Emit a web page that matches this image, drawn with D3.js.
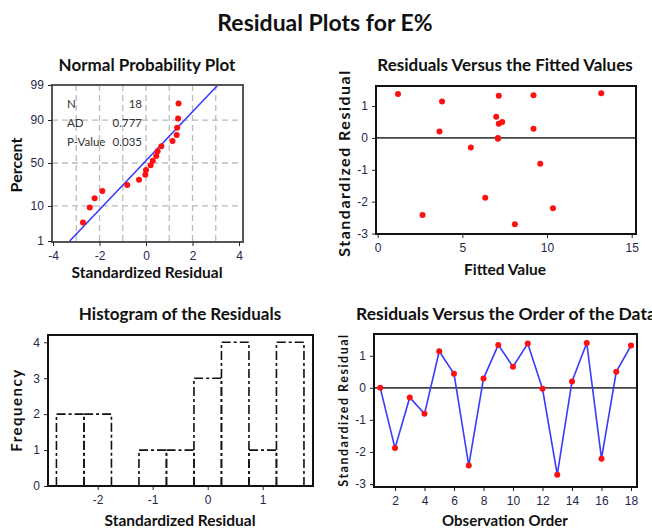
<!DOCTYPE html>
<html>
<head>
<meta charset="utf-8">
<script src="https://cdn.jsdelivr.net/npm/d3@7"></script>
<style>
  body { margin: 0; background: #fff; }
  svg { font-family: Lato, "Open Sans", sans-serif; }
  .tick text { fill: #26264a; font-size: 12px; }
  .tick line { stroke: #222; }
  .title { font-weight: 700; fill: #111; }
  .label { font-weight: 700; fill: #111; }
</style>
</head>
<body>
<script>
const width = 652
const height = 529

/* Data. */
const observation = [1, 2, 3, 4, 5, 6, 7, 8, 9, 10, 11, 12, 13, 14, 15, 16, 17, 18]
const residuals = [0.0, -1.88, -0.30, -0.81, 1.14, 0.44, -2.42, 0.29, 1.34, 0.66, 1.38, -0.03, -2.71, 0.20, 1.40, -2.21, 0.50, 1.32]
const fitted = [7.1, 6.35, 5.5, 9.6, 3.8, 7.15, 2.65, 9.2, 9.2, 7.0, 1.2, 7.1, 8.1, 3.65, 13.2, 10.35, 7.35, 7.15]

const percentTicks = [1, 10, 50, 90, 99]
const normalXTicks = [-4, -2, 0, 2, 4]
const normalXGrid = [-3, -2, -1, 0, 1, 2, 3]
const residTicks = [-3, -2, -1, 0, 1]
const fittedTicks = [0, 5, 10, 15]
const histXTicks = [-2, -1, 0, 1]
const histYTicks = [0, 1, 2, 3, 4]
const binEdges = [-2.75, -2.25, -1.75, -1.25, -0.75, -0.25, 0.25, 0.75, 1.25, 1.75]
const orderTicks = [2, 4, 6, 8, 10, 12, 14, 16, 18]
const statLabels = ["N", "AD", "P-Value"]
const statValues = ["18", "0.777", "0.035"]

/* Inverse of the standard normal cdf (Acklam). */
function qnorm(p) {
  const a = [-39.69683028665376, 220.9460984245205, -275.9285104469687, 138.3577518672690, -30.66479806614716, 2.506628277459239]
  const b = [-54.47609879822406, 161.5858368580409, -155.6989798598866, 66.80131188771972, -13.28068155288572]
  const c = [-0.007784894002430293, -0.3223964580411365, -2.400758277161838, -2.549732539343734, 4.374664141464968, 2.938163982698783]
  const d = [0.007784695709041462, 0.3224671290700398, 2.445134137142996, 3.754408661907416]
  const pl = 0.02425
  let q, r
  if (p < pl) {
    q = Math.sqrt(-2 * Math.log(p))
    return (((((c[0]*q+c[1])*q+c[2])*q+c[3])*q+c[4])*q+c[5]) / ((((d[0]*q+d[1])*q+d[2])*q+d[3])*q+1)
  }
  if (p > 1 - pl) {
    q = Math.sqrt(-2 * Math.log(1 - p))
    return -(((((c[0]*q+c[1])*q+c[2])*q+c[3])*q+c[4])*q+c[5]) / ((((d[0]*q+d[1])*q+d[2])*q+d[3])*q+1)
  }
  q = p - 0.5
  r = q * q
  return (((((a[0]*r+a[1])*r+a[2])*r+a[3])*r+a[4])*r+a[5])*q / (((((b[0]*r+b[1])*r+b[2])*r+b[3])*r+b[4])*r+1)
}

/* Plain hyphen minus like the original, no decimals. */
const plain = d => String(d)

const svg = d3.select("body").append("svg")
  .attr("width", width)
  .attr("height", height)

svg.append("text")
  .attr("class", "title")
  .attr("x", 325).attr("y", 31)
  .attr("text-anchor", "middle")
  .style("font-size", "23px")
  .text("Residual Plots for E%")

/* Helpers for axes and frames. */
function bottomAxis(scale, y, ticks, fmt) {
  const ax = d3.axisBottom(scale).tickValues(ticks).tickSize(4).tickSizeOuter(0)
    .tickFormat(fmt || plain)
  const g = svg.append("g").attr("transform", `translate(0,${y})`).call(ax)
  g.select(".domain").remove()
  g.selectAll(".tick text").attr("dy", "0.9em")
  return g
}
function leftAxis(scale, x, ticks, fmt) {
  const ax = d3.axisLeft(scale).tickValues(ticks).tickSize(4).tickSizeOuter(0)
    .tickFormat(fmt || plain)
  const g = svg.append("g").attr("transform", `translate(${x},0)`).call(ax)
  g.select(".domain").remove()
  g.selectAll(".tick text").attr("dx", "-0.1em")
  return g
}
function frame(x0, y0, x1, y1, color) {
  svg.append("rect")
    .attr("x", x0).attr("y", y0)
    .attr("width", x1 - x0).attr("height", y1 - y0)
    .attr("fill", "none")
    .attr("stroke", color || "#111")
    .attr("stroke-width", 2)
}
function title(text, x, y, anchor, size) {
  svg.append("text").attr("class", "title")
    .attr("x", x).attr("y", y)
    .attr("text-anchor", anchor || "middle")
    .style("font-size", (size || 17) + "px")
    .text(text)
}
function xLabel(text, x, y, size) {
  svg.append("text").attr("class", "label")
    .attr("x", x).attr("y", y)
    .attr("text-anchor", "middle")
    .style("font-size", (size || 15.5) + "px")
    .text(text)
}
function yLabel(text, x, y, size, spacing) {
  svg.append("text").attr("class", "label")
    .attr("transform", `translate(${x},${y}) rotate(-90)`)
    .attr("text-anchor", "middle")
    .style("font-size", size + "px")
    .style("letter-spacing", (spacing || 0) + "px")
    .text(text)
}

/* ---------- Normal probability plot ---------- */
const npX = d3.scaleLinear().domain([-4, 4]).range([53, 239])
const npY = d3.scaleLinear().domain([qnorm(0.01), qnorm(0.99)]).range([241, 85])

svg.append("g").selectAll("line.vg")
  .data(normalXGrid).enter().append("line")
  .attr("x1", d => npX(d)).attr("x2", d => npX(d))
  .attr("y1", 85).attr("y2", 242)
  .attr("stroke", "#bbb").attr("stroke-width", 1.3).attr("stroke-dasharray", "6,4")
svg.append("g").selectAll("line.hg")
  .data([10, 50, 90]).enter().append("line")
  .attr("x1", 52).attr("x2", 243)
  .attr("y1", d => npY(qnorm(d / 100))).attr("y2", d => npY(qnorm(d / 100)))
  .attr("stroke", "#bbb").attr("stroke-width", 1.3).attr("stroke-dasharray", "6,4")

const mu = d3.mean(residuals)
const sigma = d3.deviation(residuals)
const zEnds = [qnorm(0.01), qnorm(0.99)]
svg.append("line")
  .attr("x1", npX(mu + sigma * zEnds[0])).attr("y1", npY(zEnds[0]))
  .attr("x2", npX(mu + sigma * zEnds[1])).attr("y2", npY(zEnds[1]))
  .attr("stroke", "#3a3aff").attr("stroke-width", 1.6)

const sorted = residuals.slice().sort(d3.ascending)
const n = sorted.length
svg.append("g").selectAll("circle")
  .data(sorted).enter().append("circle")
  .attr("cx", d => npX(d))
  .attr("cy", (d, i) => npY(qnorm((i + 1 - 0.3) / (n + 0.4))))
  .attr("r", 3).attr("fill", "#ff1010")

const stats = svg.append("g").style("font-size", "11.5px").attr("fill", "#333")
statLabels.forEach((s, i) => {
  stats.append("text").attr("x", 67).attr("y", 108 + i * 19).text(s)
  stats.append("text").attr("x", 142).attr("y", 108 + i * 19)
    .attr("text-anchor", "end").text(statValues[i])
})

frame(52, 85, 243, 242, "#555")
bottomAxis(npX, 242, normalXTicks)
leftAxis(npY, 52, percentTicks.map(p => qnorm(p / 100)), (d, i) => percentTicks[i])
title("Normal Probability Plot", 147, 71)
xLabel("Standardized Residual", 147, 278)
yLabel("Percent", 22, 165, 16)

/* ---------- Residuals versus fitted values ---------- */
const fvX = d3.scaleLinear().domain([0, 15]).range([377.7, 631.7])
const fvY = d3.scaleLinear().domain([-3, 1]).range([233.5, 106])

svg.append("line")
  .attr("x1", 376).attr("x2", 636)
  .attr("y1", fvY(0)).attr("y2", fvY(0))
  .attr("stroke", "#444").attr("stroke-width", 1.8)
svg.append("g").selectAll("circle")
  .data(residuals).enter().append("circle")
  .attr("cx", (d, i) => fvX(fitted[i]))
  .attr("cy", d => fvY(d))
  .attr("r", 3).attr("fill", "#ff1010")

frame(376, 86, 636, 234)
bottomAxis(fvX, 234, fittedTicks)
leftAxis(fvY, 376, residTicks)
title("Residuals Versus the Fitted Values", 505, 71)
xLabel("Fitted Value", 505, 275)
yLabel("Standardized Residual", 350, 163, 16, 1.5)

/* ---------- Histogram of the residuals ---------- */
const hX = d3.scaleLinear().domain([-2, 1]).range([97.7, 262.7])
const hY = d3.scaleLinear().domain([0, 4]).range([486, 342.3])
const bins = d3.bin()
  .domain([binEdges[0], binEdges[binEdges.length - 1]])
  .thresholds(binEdges)(residuals)

svg.append("g").selectAll("path")
  .data(bins.filter(b => b.length > 0)).enter().append("path")
  .attr("d", b => `M${hX(b.x0)},${hY(0)}V${hY(b.length)}H${hX(b.x1)}V${hY(0)}`)
  .attr("fill", "none").attr("stroke", "#111").attr("stroke-width", 1.6)
  .attr("stroke-dasharray", "9,3,3,3")

frame(48, 335, 313, 486)
bottomAxis(hX, 486, histXTicks)
leftAxis(hY, 48, histYTicks)
title("Histogram of the Residuals", 180, 320)
xLabel("Standardized Residual", 180, 526)
yLabel("Frequency", 22, 410, 15, 1.5)

/* ---------- Residuals versus order ---------- */
const oX = d3.scaleLinear().domain([2, 18]).range([395, 631])
const oY = d3.scaleLinear().domain([-3, 1]).range([484, 355.8])

svg.append("line")
  .attr("x1", 374).attr("x2", 637)
  .attr("y1", oY(0)).attr("y2", oY(0))
  .attr("stroke", "#444").attr("stroke-width", 1.8)
svg.append("path")
  .datum(residuals)
  .attr("d", d3.line().x((d, i) => oX(observation[i])).y(d => oY(d)))
  .attr("fill", "none").attr("stroke", "#3a3aff").attr("stroke-width", 1.6)
svg.append("g").selectAll("circle")
  .data(residuals).enter().append("circle")
  .attr("cx", (d, i) => oX(observation[i]))
  .attr("cy", d => oY(d))
  .attr("r", 3).attr("fill", "#ff1010")

frame(374, 334, 637, 487)
bottomAxis(oX, 487, orderTicks)
leftAxis(oY, 374, residTicks)
title("Residuals Versus the Order of the Data", 356, 320, "start", 17.5)
xLabel("Observation Order", 505, 526, 15)
yLabel("Standardized Residual", 348, 410, 12.5, 1.5)
</script>
</body>
</html>
